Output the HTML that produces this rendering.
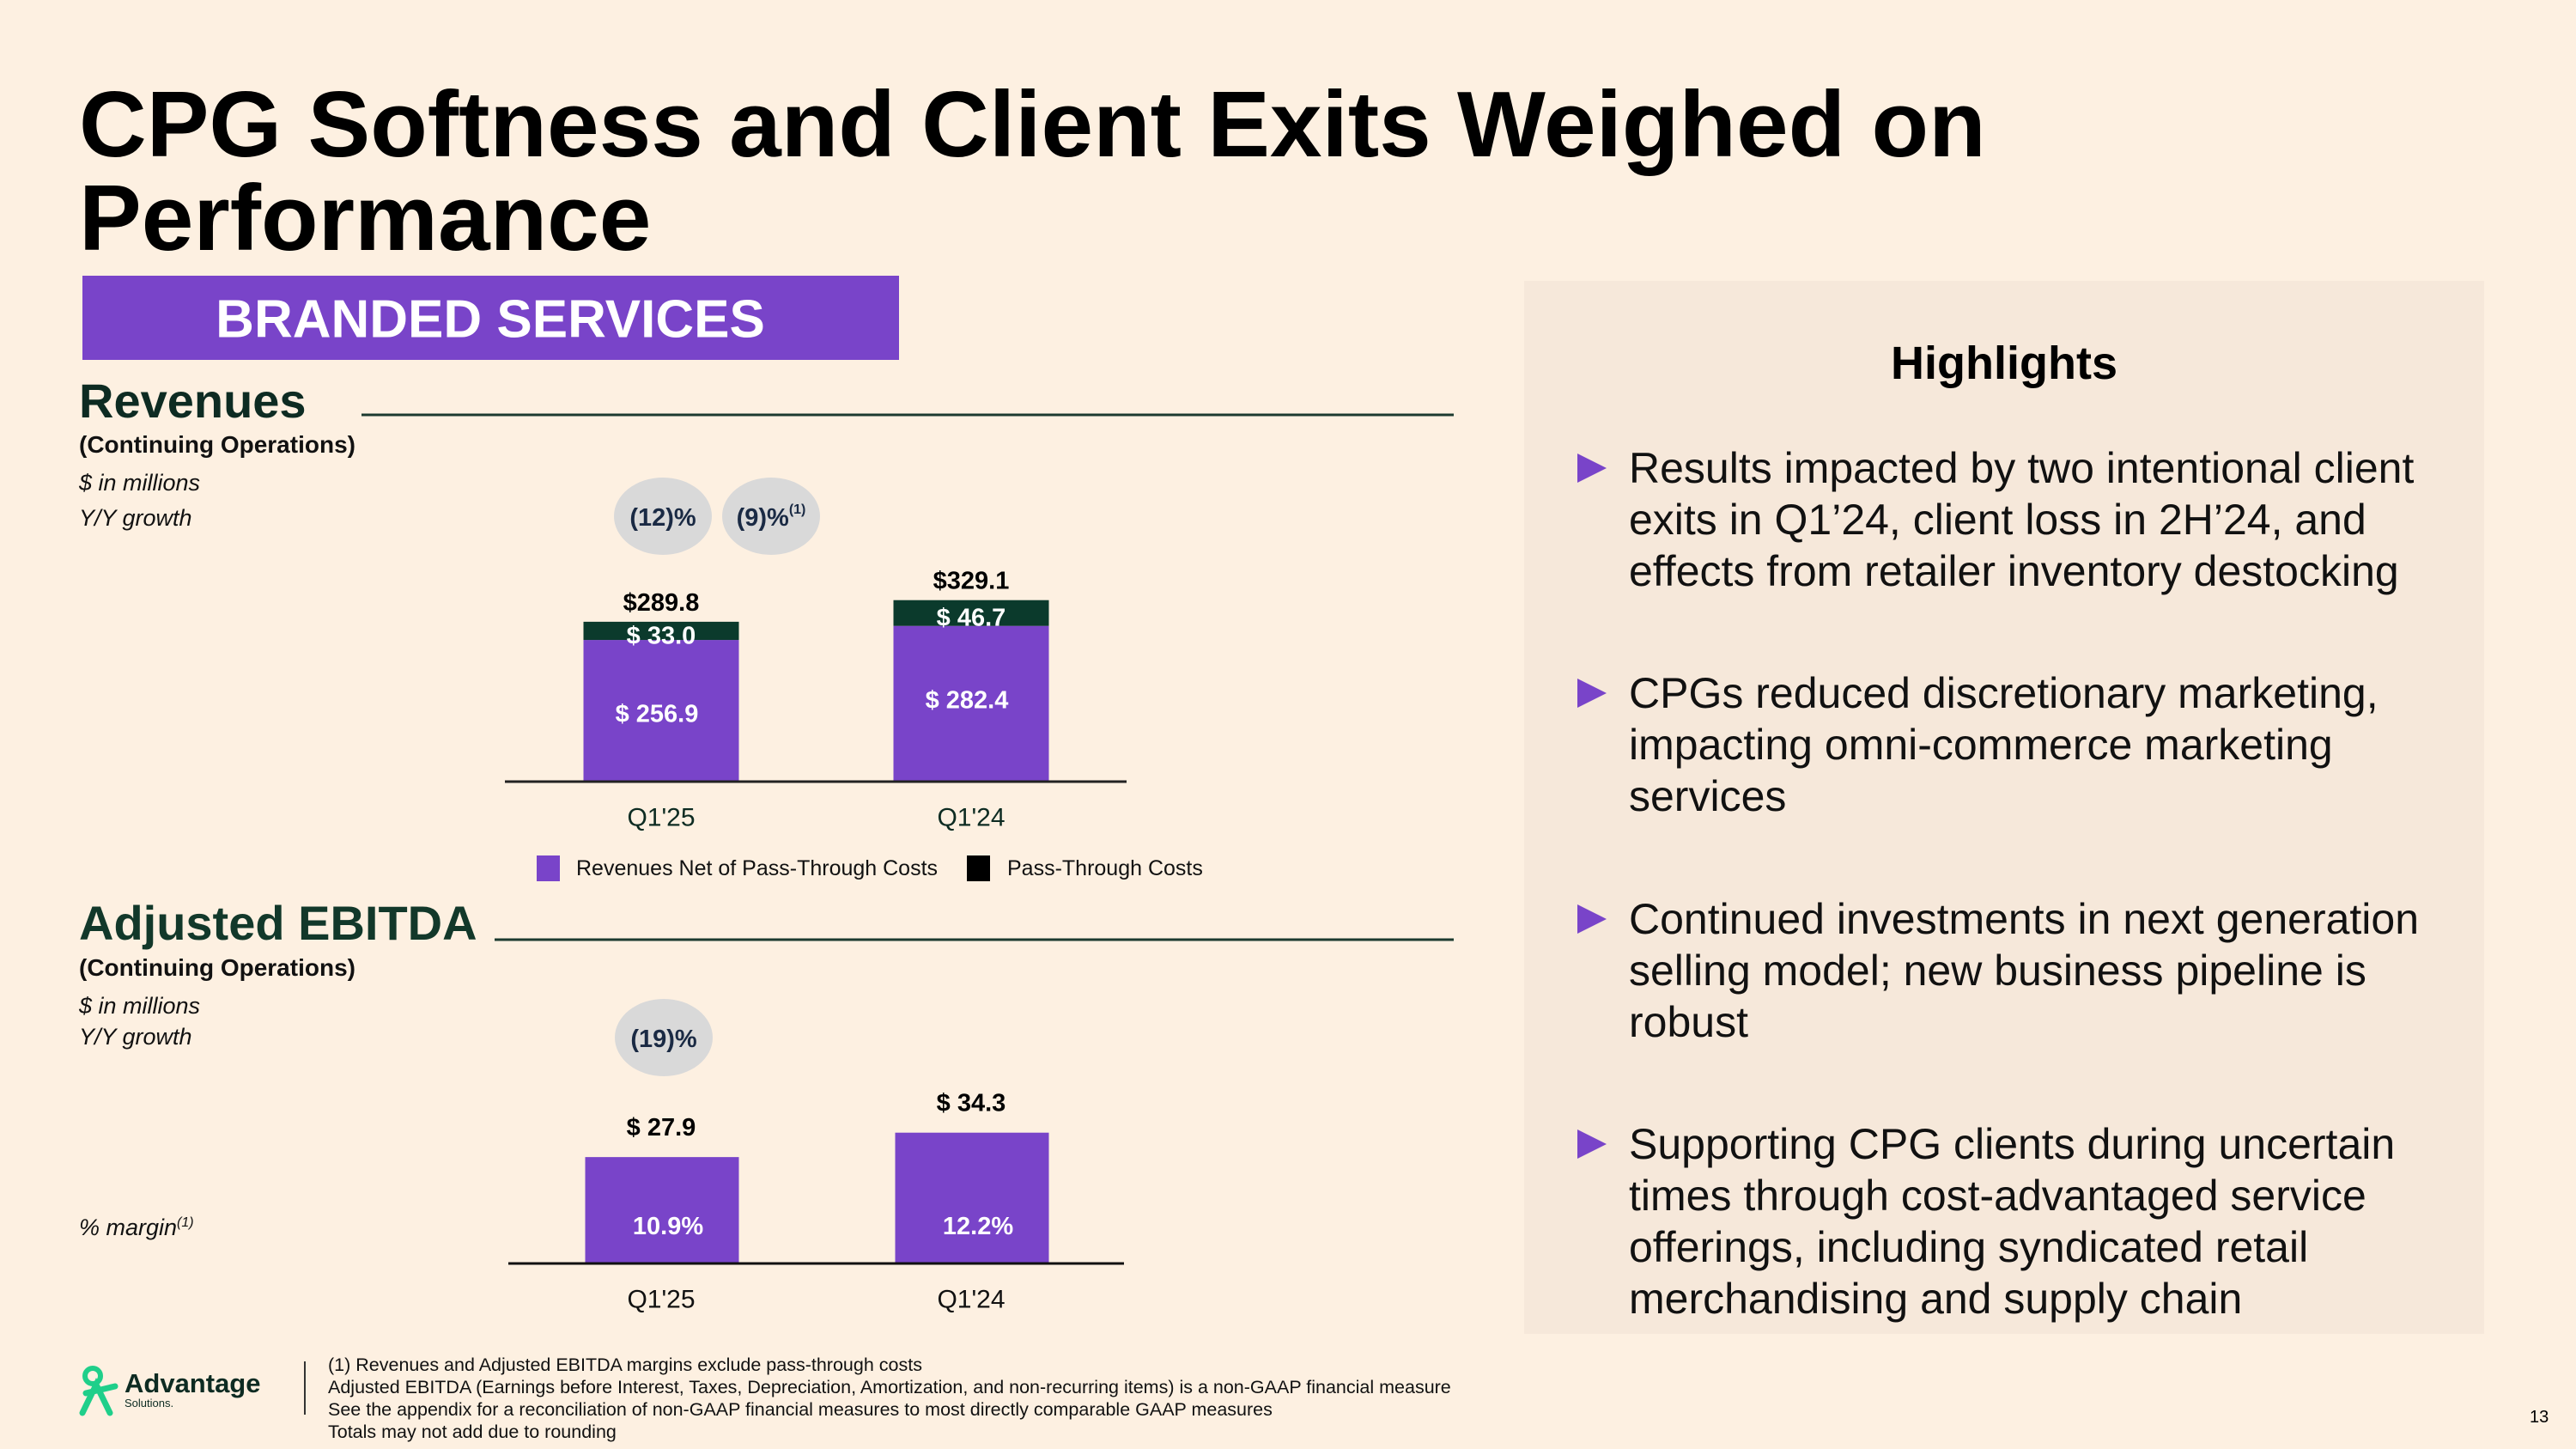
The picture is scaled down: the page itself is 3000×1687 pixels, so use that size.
<!DOCTYPE html>
<html><head><meta charset="utf-8"><style>
html,body{margin:0;padding:0;background:#fdf0e1;}
svg{display:block;font-family:"Liberation Sans",Arial,sans-serif;}
</style></head><body>
<svg id="s" width="3000" height="1687" viewBox="0 0 3000 1687" xmlns="http://www.w3.org/2000/svg">
<rect width="3000" height="1687" fill="#fdf0e1"/>
<g font-weight="bold" font-size="109" fill="#000">
<text x="92" y="182">CPG Softness and Client Exits Weighed on</text>
<text x="92" y="291">Performance</text>
</g>
<rect x="96" y="321" width="951" height="98" fill="#7944c9"/>
<text x="571" y="372" text-anchor="middle" dominant-baseline="central" fill="#fff" font-weight="bold" font-size="62">BRANDED SERVICES</text>

<g>
<text x="92" y="486" font-weight="bold" font-size="56" fill="#0d2b22">Revenues</text>
<line x1="421" y1="483" x2="1693" y2="483" stroke="#1c3a2f" stroke-width="3"/>
<text x="92" y="527" font-weight="bold" font-size="28" fill="#111">(Continuing Operations)</text>
<text x="92" y="571" font-style="italic" font-size="27" fill="#111">$ in millions</text>
<text x="92" y="612" font-style="italic" font-size="27" fill="#111">Y/Y growth</text>
</g>
<g>
<text x="92" y="1094" font-weight="bold" font-size="56" fill="#12382a">Adjusted EBITDA</text>
<line x1="576" y1="1094" x2="1693" y2="1094" stroke="#1c3a2f" stroke-width="3"/>
<text x="92" y="1136" font-weight="bold" font-size="28" fill="#111">(Continuing Operations)</text>
<text x="92" y="1180" font-style="italic" font-size="27" fill="#111">$ in millions</text>
<text x="92" y="1216" font-style="italic" font-size="27" fill="#111">Y/Y growth</text>
<text x="92" y="1438" font-style="italic" font-size="27" fill="#111">% margin<tspan font-size="16" dy="-10">(1)</tspan></text>
</g>

<g id="rev"></g>
<g id="ebit"></g>

<g>
<rect x="625" y="996" width="27" height="30" fill="#7944c9"/>
<text x="671" y="1011" dominant-baseline="central" font-size="25" fill="#111">Revenues Net of Pass-Through Costs</text>
<rect x="1126" y="996" width="27" height="30" fill="#000"/>
<text x="1173" y="1011" dominant-baseline="central" font-size="25" fill="#111">Pass-Through Costs</text>
</g>

<rect x="1775" y="327" width="1118" height="1226" fill="#f6e8da"/>
<text x="2334" y="423" text-anchor="middle" dominant-baseline="central" font-weight="bold" font-size="54" fill="#000">Highlights</text>
<g font-size="50" fill="#111">
<g><polygon points="1837,528 1871,545 1837,562" fill="#7944c9"/>
<text x="1897" y="562">Results impacted by two intentional client</text><text x="1897" y="622">exits in Q1’24, client loss in 2H’24, and</text><text x="1897" y="682">effects from retailer inventory destocking</text></g>
<g><polygon points="1837,790 1871,807 1837,824" fill="#7944c9"/>
<text x="1897" y="824">CPGs reduced discretionary marketing,</text><text x="1897" y="884">impacting omni-commerce marketing</text><text x="1897" y="944">services</text></g>
<g><polygon points="1837,1053 1871,1070 1837,1087" fill="#7944c9"/>
<text x="1897" y="1087">Continued investments in next generation</text><text x="1897" y="1147">selling model; new business pipeline is</text><text x="1897" y="1207">robust</text></g>
<g><polygon points="1837,1315 1871,1332 1837,1349" fill="#7944c9"/>
<text x="1897" y="1349">Supporting CPG clients during uncertain</text><text x="1897" y="1409">times through cost-advantaged service</text><text x="1897" y="1469">offerings, including syndicated retail</text><text x="1897" y="1529">merchandising and supply chain</text></g>
</g>

<g>
<circle cx="108" cy="1602" r="9" fill="none" stroke="#1fcf8a" stroke-width="6"/>
<path d="M96 1645 L112 1612 L128 1645 M100 1622 L134 1614" fill="none" stroke="#1fcf8a" stroke-width="7" stroke-linecap="round"/>
<text x="145" y="1621" font-weight="bold" font-size="31" fill="#0d2b22">Advantage</text>
<text x="145" y="1638" font-size="13" fill="#0d2b22">Solutions.</text>
</g>
<line x1="355" y1="1585" x2="355" y2="1647" stroke="#333" stroke-width="2"/>
<g font-size="21.5" fill="#111">
<text x="382" y="1596">(1)  Revenues and Adjusted EBITDA margins exclude pass-through costs</text>
<text x="382" y="1622">Adjusted EBITDA (Earnings before Interest, Taxes, Depreciation, Amortization, and non-recurring items) is a non-GAAP financial measure</text>
<text x="382" y="1648">See the appendix for a reconciliation of non-GAAP financial measures to most directly comparable GAAP measures</text>
<text x="382" y="1674">Totals may not add due to rounding</text>
</g>
<text x="2946" y="1656" font-size="20" fill="#000">13</text>
</svg>
<script>
const categories = ["Q1'25", "Q1'24"];
const netRevenue = [256.9, 282.4];
const passThrough = [33.0, 46.7];
const totalRevenue = [289.8, 329.1];
const revGrowth = ["(12)%", "(9)%"];
const ebitda = [27.9, 34.3];
const marginLabels = ["10.9%", "12.2%"];
const ebitdaGrowth = ["(19)%"];

const NS = "http://www.w3.org/2000/svg";
function mk(parent, tag, attrs, txt) {
  const e = document.createElementNS(NS, tag);
  for (const k in attrs) e.setAttribute(k, attrs[k]);
  if (txt !== undefined) e.textContent = txt;
  parent.appendChild(e);
  return e;
}
const xCenter = i => 770 + i * 361;
const barW = 181;

// Revenue chart
const rev = document.getElementById('rev');
const revBase = 910, revK = 0.642;
const yRev = v => revBase - v * revK;
revGrowth.forEach((g, i) => {
  const cx = 772 + i * 126;
  const el = mk(rev, 'ellipse', {cx: cx, cy: 601, rx: 57, ry: 45, fill: '#d9d9d9'});
  
  
  const t = mk(rev, 'text', {x: cx, y: 603, 'text-anchor': 'middle', 'dominant-baseline': 'central', 'font-size': 29, 'font-weight': 'bold', fill: '#1a2a44'}, g);
  if (i === 1) { mk(t, 'tspan', {'font-size': 16, dy: -10}, '(1)'); }
  
  
});
categories.forEach((c, i) => {
  const x = xCenter(i) - barW / 2;
  const b1 = mk(rev, 'rect', {x: x, y: yRev(netRevenue[i]), width: barW, height: netRevenue[i] * revK, fill: '#7944c9'});
  
  
  const b2 = mk(rev, 'rect', {x: x, y: yRev(netRevenue[i] + passThrough[i]), width: barW, height: passThrough[i] * revK, fill: '#0b3a2c'});
  
  
  const t1 = mk(rev, 'text', {x: xCenter(i), y: yRev(totalRevenue[i]) - 22, 'text-anchor': 'middle', 'dominant-baseline': 'central', 'font-size': 29, 'font-weight': 'bold', fill: '#000'}, '$' + totalRevenue[i].toFixed(1));
  
  
  const t2 = mk(rev, 'text', {x: xCenter(i), y: yRev(netRevenue[i] + passThrough[i] / 2) + 6, 'text-anchor': 'middle', 'dominant-baseline': 'central', 'font-size': 29, 'font-weight': 'bold', fill: '#fff'}, '$ ' + passThrough[i].toFixed(1));
  
  
  const t3 = mk(rev, 'text', {x: xCenter(i) - 5, y: yRev(netRevenue[i] / 2) + 4 - i * 8, 'text-anchor': 'middle', 'dominant-baseline': 'central', 'font-size': 29, 'font-weight': 'bold', fill: '#fff'}, '$ ' + netRevenue[i].toFixed(1));
  
  
  const q = mk(rev, 'text', {x: xCenter(i), y: 952, 'text-anchor': 'middle', 'dominant-baseline': 'central', 'font-size': 30, fill: '#0d2b22'}, c);
  
  
});
const ax1 = mk(rev, 'line', {x1: 588, y1: revBase, x2: 1312, y2: revBase, stroke: '#222', 'stroke-width': 3});



// EBITDA chart
const eb = document.getElementById('ebit');
const ebBase = 1471, ebK = 4.44;
const yEb = v => ebBase - v * ebK;
ebitdaGrowth.forEach((g, i) => {
  const el = mk(eb, 'ellipse', {cx: 773, cy: 1208, rx: 57, ry: 45, fill: '#d9d9d9'});
  
  
  const t = mk(eb, 'text', {x: 773, y: 1210, 'text-anchor': 'middle', 'dominant-baseline': 'central', 'font-size': 29, 'font-weight': 'bold', fill: '#1a2a44'}, g);
  
  
});
categories.forEach((c, i) => {
  const x = xCenter(i) - barW / 2 + 2;
  const b = mk(eb, 'rect', {x: x, y: yEb(ebitda[i]), width: barW - 2, height: ebitda[i] * ebK, fill: '#7944c9'});
  
  
  const t1 = mk(eb, 'text', {x: xCenter(i), y: yEb(ebitda[i]) - 34, 'text-anchor': 'middle', 'dominant-baseline': 'central', 'font-size': 29, 'font-weight': 'bold', fill: '#000'}, '$ ' + ebitda[i].toFixed(1));
  
  
  const t2 = mk(eb, 'text', {x: xCenter(i) + 8, y: 1428, 'text-anchor': 'middle', 'dominant-baseline': 'central', 'font-size': 29, 'font-weight': 'bold', fill: '#fff'}, marginLabels[i]);
  
  
  const q = mk(eb, 'text', {x: xCenter(i), y: 1513, 'text-anchor': 'middle', 'dominant-baseline': 'central', 'font-size': 30, fill: '#111'}, c);
  
  
});
const ax2 = mk(eb, 'line', {x1: 592, y1: ebBase, x2: 1309, y2: ebBase, stroke: '#111', 'stroke-width': 3});


</script>
</body></html>
